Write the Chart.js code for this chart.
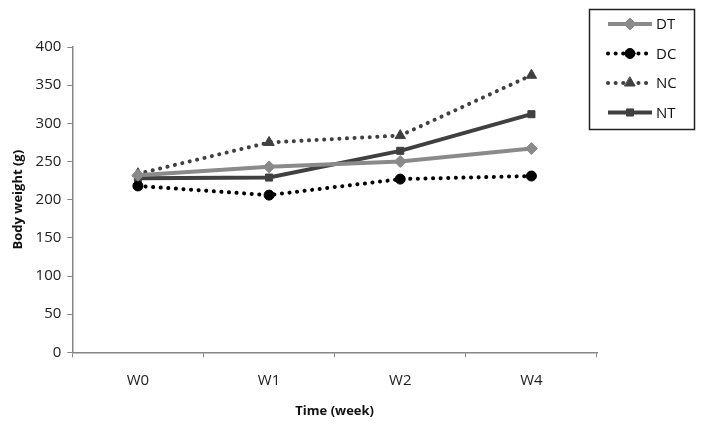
<!DOCTYPE html>
<html lang="en">
<head>
    <meta charset="UTF-8">
    <title>Body weight</title>
    <style>
        html, body {
            margin: 0;
            padding: 0;
            background: #fff;
        }
        #wrap {
            width: 704px;
            height: 428px;
        }
    </style>
    <script src="https://cdn.jsdelivr.net/npm/chart.js"></script>
</head>
<body>
    <div id="wrap"><canvas id="chart" width="704" height="428"></canvas></div>
    <script>
        // data
        const weeks = ['W0', 'W1', 'W2', 'W4'];
        const dtValues = [232, 243, 250, 267];
        const dcValues = [218, 206, 227, 231];
        const ncValues = [234, 275, 284, 363];
        const ntValues = [228, 229, 264, 312];
        const yTicks = [0, 50, 100, 150, 200, 250, 300, 350, 400];

        const FONT = "'Open Sans', 'Liberation Sans', sans-serif";
        const dots = [0.1, 7.5];

        // legend box drawn by hand so samples show the line and the marker
        const legendBox = {
            id: 'legendBox',
            afterDraw(chart) {
                const ctx = chart.ctx;
                ctx.save();
                ctx.strokeStyle = '#222';
                ctx.lineWidth = 1.5;
                ctx.strokeRect(589.5, 9.5, 105, 120);
                chart.data.datasets.forEach((ds, i) => {
                    const y = 24 + i * 29.5;
                    ctx.beginPath();
                    ctx.strokeStyle = ds.borderColor;
                    ctx.lineWidth = ds.borderWidth;
                    ctx.lineCap = ds.borderCapStyle || 'butt';
                    ctx.setLineDash(ds.borderDash || []);
                    ctx.moveTo(608, y);
                    ctx.lineTo(652, y);
                    ctx.stroke();
                    ctx.setLineDash([]);
                    ctx.fillStyle = ds.pointBackgroundColor;
                    ctx.strokeStyle = ds.pointBorderColor;
                    ctx.lineWidth = 1;
                    Chart.helpers.drawPoint(ctx, {
                        pointStyle: ds.pointStyle,
                        radius: ds.pointRadius,
                        rotation: 0,
                        borderWidth: 1
                    }, 630, y);
                    ctx.fillStyle = '#111';
                    ctx.font = '15px ' + FONT;
                    ctx.textBaseline = 'middle';
                    ctx.fillText(ds.label, 656, y + 1);
                });
                ctx.restore();
            }
        };

        function series(label, data, color, dashed, style, radius) {
            return {
                label: label,
                data: data,
                borderColor: color,
                borderWidth: 4,
                borderDash: dashed ? dots : [],
                borderCapStyle: dashed ? 'round' : 'butt',
                pointStyle: style,
                pointRadius: radius,
                pointHoverRadius: radius,
                pointBackgroundColor: color,
                pointBorderColor: color,
                pointBorderWidth: 1,
                tension: 0,
                fill: false
            };
        }

        new Chart(document.getElementById('chart'), {
            type: 'line',
            data: {
                labels: weeks,
                datasets: [
                    series('DT', dtValues, '#8a8a8a', false, 'rectRot', 6),
                    series('DC', dcValues, '#000000', true, 'circle', 5),
                    series('NC', ncValues, '#404040', true, 'triangle', 6),
                    series('NT', ntValues, '#404040', false, 'rect', 5)
                ]
            },
            options: {
                responsive: false,
                animation: false,
                devicePixelRatio: 1,
                layout: {
                    padding: { left: 10, right: 107, top: 47, bottom: 9 }
                },
                plugins: {
                    legend: { display: false },
                    tooltip: { enabled: false }
                },
                scales: {
                    x: {
                        offset: true,
                        grid: {
                            offset: true,
                            drawOnChartArea: false,
                            drawTicks: true,
                            tickLength: 5,
                            color: '#868686'
                        },
                        border: { color: '#868686', width: 1.5 },
                        ticks: {
                            color: '#222',
                            font: { family: FONT, size: 15 },
                            padding: 14
                        },
                        title: {
                            display: true,
                            text: 'Time (week)',
                            color: '#111',
                            font: { family: FONT, size: 13, weight: 'bold' },
                            padding: { top: 0, bottom: 0 }
                        }
                    },
                    y: {
                        min: 0,
                        max: 400,
                        afterBuildTicks(axis) {
                            axis.ticks = yTicks.map(v => ({ value: v }));
                        },
                        grid: {
                            drawOnChartArea: false,
                            drawTicks: true,
                            tickLength: 5,
                            color: '#868686'
                        },
                        border: { color: '#868686', width: 1.5 },
                        ticks: {
                            color: '#222',
                            font: { family: FONT, size: 15 },
                            padding: 6
                        },
                        title: {
                            display: true,
                            text: 'Body weight (g)',
                            color: '#111',
                            font: { family: FONT, size: 13, weight: 'bold' },
                            padding: { top: 0, bottom: 4 }
                        }
                    }
                }
            },
            plugins: [legendBox]
        });
    </script>
</body>
</html>
